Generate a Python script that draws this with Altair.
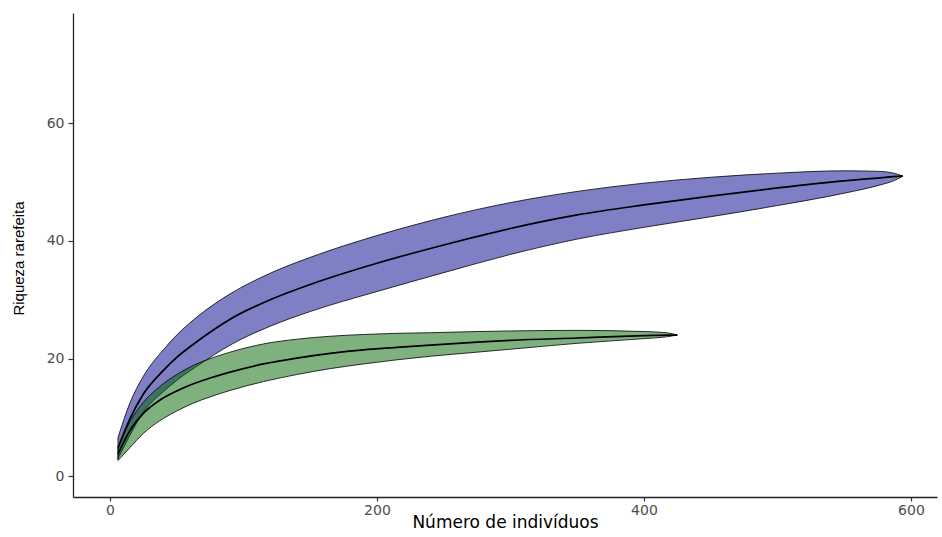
import altair as alt
import pandas as pd

# Rarefaction curves: number of individuals vs. rarefied richness,
# with lower / upper confidence limits for each community.
blue_n = [6, 15, 25, 40, 50, 67, 90, 120, 150, 200, 250, 300, 350, 400, 450, 500, 550, 577, 587, 594]
blue_mean = [4.8, 9.8, 14.0, 18.0, 20.2, 23.2, 26.7, 30.0, 32.6, 36.2, 39.3, 42.1, 44.4, 46.1, 47.6, 49.0, 50.2, 50.7, 50.9, 51.0]
blue_lower = [3.0, 7.0, 10.9, 14.4, 16.3, 19.0, 22.3, 25.5, 28.0, 31.4, 34.6, 37.7, 40.3, 42.3, 44.1, 46.0, 48.1, 49.5, 50.2, 51.0]
blue_upper = [6.6, 12.5, 17.0, 21.5, 24.0, 27.4, 31.0, 34.5, 37.2, 40.9, 44.0, 46.5, 48.4, 49.8, 50.8, 51.5, 51.9, 51.8, 51.5, 51.0]

green_n = [6, 15, 25, 37, 50, 62, 75, 90, 115, 140, 165, 190, 215, 240, 275, 300, 350, 400, 417, 425]
green_mean = [3.8, 7.8, 10.7, 12.9, 14.5, 15.7, 16.7, 17.7, 19.1, 20.1, 20.9, 21.5, 21.9, 22.3, 22.8, 23.1, 23.5, 23.9, 24.0, 24.0]
green_lower = [2.7, 4.9, 7.3, 9.4, 11.1, 12.4, 13.5, 14.6, 16.1, 17.3, 18.3, 19.1, 19.8, 20.4, 21.1, 21.6, 22.6, 23.4, 23.7, 24.0]
green_upper = [5.0, 9.3, 12.6, 15.2, 17.3, 18.8, 20.0, 21.1, 22.5, 23.3, 23.8, 24.1, 24.3, 24.4, 24.6, 24.7, 24.8, 24.6, 24.4, 24.0]

x_ticks = [0, 200, 400, 600]
y_ticks = [0, 20, 40, 60]

blue = pd.DataFrame({"n": blue_n, "s": blue_mean, "lo": blue_lower, "hi": blue_upper})
green = pd.DataFrame({"n": green_n, "s": green_mean, "lo": green_lower, "hi": green_upper})

x_enc = alt.X(
    "n:Q",
    title="Número de indivíduos",
    scale=alt.Scale(domain=[-27.7, 619.5], nice=False, zero=False),
    axis=alt.Axis(values=x_ticks, titleX=432, titleY=30, titleBaseline="alphabetic",
                  titleFont="DejaVu Sans", titleFontSize=17, labelPadding=2),
)
y_scale = alt.Scale(domain=[-3.5, 78.7], nice=False, zero=False)
y_axis = alt.Axis(values=y_ticks, titleX=-50, titleY=245, titleAlign="center",
                  titleBaseline="alphabetic", titleFont="Liberation Sans",
                  titleFontSize=15, labelPadding=4)


def band(df, colour):
    return alt.Chart(df).mark_area(
        fill=colour, fillOpacity=0.5, stroke="black", strokeWidth=0.8,
        interpolate="monotone",
    ).encode(
        x=x_enc,
        y=alt.Y("lo:Q", title="Riqueza rarefeita", scale=y_scale, axis=y_axis),
        y2="hi:Q",
    )


def mean_line(df):
    return alt.Chart(df).mark_line(
        color="black", strokeWidth=1.7, interpolate="monotone",
    ).encode(
        x=x_enc,
        y=alt.Y("s:Q", title="Riqueza rarefeita", scale=y_scale, axis=y_axis),
    )


chart = alt.layer(
    band(blue, "#00008B"),
    band(green, "#006400"),
    mean_line(blue),
    mean_line(green),
).properties(
    width=864,
    height=484,
    autosize=alt.AutoSizeParams(type="none"),
    padding={"left": 73, "top": 13, "right": 5, "bottom": 40},
    background="white",
).configure_view(
    stroke=None,
).configure_axis(
    grid=False,
    domainColor="#222222",
    domainWidth=1.3,
    tickColor="#333333",
    tickWidth=1.2,
    tickSize=5,
    labelFont="DejaVu Sans",
    labelFontSize=14,
    labelColor="#4D4D4D",
    titleColor="#000000",
    titleFontWeight="normal",
).configure_axisX(
    tickSize=4,
)

chart.save("out.html", embed_options={"renderer": "svg", "actions": False})
